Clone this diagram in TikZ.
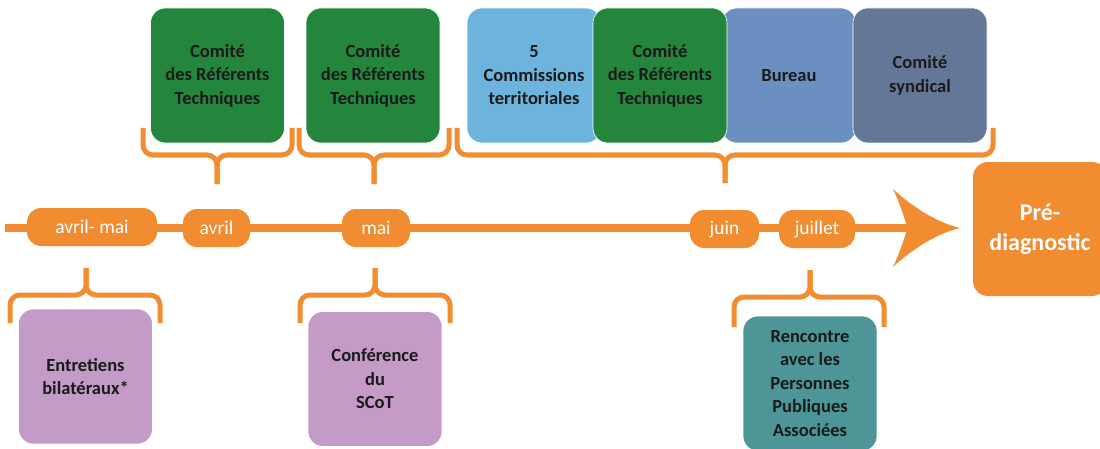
\documentclass[tikz,border=0pt]{standalone}
\usepackage{fontspec}
\setmainfont{Carlito}
\usetikzlibrary{positioning}

\definecolor{tlorange}{HTML}{F28C30}
\definecolor{crtgreen}{HTML}{24863C}
\definecolor{comblue}{HTML}{6CB4DE}
\definecolor{burblue}{HTML}{6C8FC1}
\definecolor{syngrey}{HTML}{647797}
\definecolor{entpurple}{HTML}{C49BC6}
\definecolor{ppateal}{HTML}{4D9597}
\definecolor{txtdark}{HTML}{1A1A1A}

\newcommand{\boxfont}{\bfseries\fontsize{18.5}{23.5}\selectfont}
\newcommand{\pillfont}{\fontsize{19.5}{22}\selectfont}

\tikzset{
  box/.style={rectangle, rounded corners=15pt, minimum width=134pt, minimum height=135pt,
    inner sep=0pt, align=center, font=\boxfont, text=txtdark, draw=white, line width=0.6pt},
  pill/.style={rectangle, rounded corners=14pt, fill=tlorange, text=white, minimum height=38pt,
    inner sep=0pt, font=\pillfont},
  brace/.style={draw=tlorange, line width=5pt, rounded corners=10pt},
}

\begin{document}
\begin{tikzpicture}[x=1pt, y=1pt]
\useasboundingbox (0,0) rectangle (1100,448);

% timeline
\coordinate (tl-start) at (5,220);
\coordinate (tl-notch) at (908,220);
\draw[tlorange, line width=8pt] (tl-start) -- (tl-notch);
\fill[tlorange] (960,220) .. controls (935,226) and (910,243) .. (893,259)
  .. controls (902,240) and (905,226) .. (tl-notch)
  .. controls (905,214) and (902,200) .. (893,181)
  .. controls (910,197) and (935,214) .. (960,220);

% months
\node (avrilmai)[pill, minimum width=130pt] at (92,221) {avril- mai};
\node (avril)[pill, minimum width=67pt] at (216.5,220) {avril};
\node (mai)[pill, minimum width=68pt] at (376,220) {mai};
\node (juin)[pill, minimum width=69pt] at (724.5,219) {juin};
\node (juillet)[pill, minimum width=76pt] at (817,219) {juillet};

\node (pre)[rectangle, rounded corners=15pt, fill=tlorange, minimum width=134pt, minimum height=134pt,
  align=center, text=white, font=\bfseries\fontsize{24}{30}\selectfont] at (1040,219) {Pré-\\diagnostic};

% braces above
\draw[brace] (143,320) |- (217,293) -- (217,264);
\draw[brace] (292,320) |- (217,293) -- (217,264);
\draw[brace] (299,320) |- (374,293) -- (374,264);
\draw[brace] (449,320) |- (374,293) -- (374,264);
\draw[brace] (457,320) |- (725,293) -- (725,265);
\draw[brace] (993,320) |- (725,293) -- (725,265);

% braces below
\draw[brace] (10,125) |- (86,153) -- (86,180);
\draw[brace] (160,125) |- (86,153) -- (86,180);
\draw[brace] (300,125) |- (375,153) -- (375,180);
\draw[brace] (450,125) |- (375,153) -- (375,180);
\draw[brace] (734,121) |- (810,151) -- (810,178);
\draw[brace] (884,121) |- (810,151) -- (810,178);

% instances
\node (crt1)[box, fill=crtgreen] at (217.5,372.5) {Comité\\des Référents\\Techniques};
\node (crt2)[box, fill=crtgreen] at (373,372.5) {Comité\\des Référents\\Techniques};
\node (comm)[box, fill=comblue] at (534,372.5) {5\\Commissions\\territoriales};
\node (bureau)[box, fill=burblue] at (789,372.5) {Bureau};
\node (crt3)[box, fill=crtgreen] at (660,372.5) {Comité\\des Référents\\Techniques};
\node (synd)[box, fill=syngrey] at (920,372.5) {Comité\\syndical};

\node (entr)[box, fill=entpurple] at (85.5,71.5) {Entretiens\\bilatéraux*};
\node (conf)[box, fill=entpurple] at (375,69) {Conférence\\du\\SCoT};
\node (ppa)[box, fill=ppateal] at (810,64.5) {Rencontre\\avec les\\Personnes\\Publiques\\Associées};
\end{tikzpicture}
\end{document}
